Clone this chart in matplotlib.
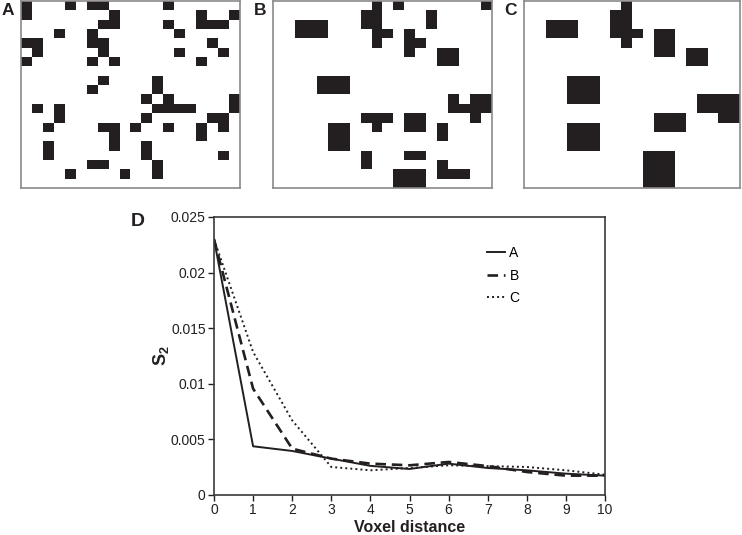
import numpy as np
import matplotlib
matplotlib.use("Agg")
import matplotlib.pyplot as plt
from matplotlib.colors import ListedColormap

plt.rcParams['font.family'] = ['Liberation Sans', 'DejaVu Sans']
plt.rcParams['mathtext.fontset'] = 'custom'
plt.rcParams['mathtext.rm'] = 'Liberation Sans'
plt.rcParams['mathtext.bf'] = 'Liberation Sans:bold'

# ---- binary microstructure panels (20 x 20 voxels, '#' = solid) ----
panel_A = [
    "#...#.##.....#......",
    "#.......#.......#..#",
    ".......##....#..###.",
    "...#..#.......#.....",
    "##....##.........#..",
    ".#.....#......#...#.",
    "#.....#.#.......#...",
    "....................",
    ".......#....#.......",
    "......#.....#.......",
    "...........#.#.....#",
    ".#.#........####...#",
    "...#.......#.....##.",
    "..#....##.#..#..#.#.",
    "........#.......#...",
    "..#.....#..#........",
    "..#........#......#.",
    "......##....#.......",
    "....#....#..#.......",
    "....................",
]
panel_B = [
    ".........#.#.......#",
    "........##....#.....",
    "..###...##....#.....",
    "..###....##.#.......",
    ".........#..##......",
    "............#..##...",
    "...............##...",
    "....................",
    "....###.............",
    "....###.............",
    "................#.##",
    "................####",
    "........###.##....#.",
    ".....##..#..##.#....",
    ".....##........#....",
    ".....##.............",
    "........#...##......",
    "........#......#....",
    "...........###.###..",
    "...........###......",
]
panel_C = [
    ".........#..........",
    "........##..........",
    "..###...##..........",
    "..###...###.##......",
    ".........#..##......",
    "............##.##...",
    "...............##...",
    "....................",
    "....###.............",
    "....###.............",
    "....###.........####",
    "................####",
    "............###...##",
    "....###.....###.....",
    "....###.............",
    "....###.............",
    "...........###......",
    "...........###......",
    "...........###......",
    "...........###......",
]
panel_names = ["A", "B", "C"]

# ---- two-point correlation S2 ----
voxel_distance = [0, 1, 2, 3, 4, 5, 6, 7, 8, 9, 10]
s2_A = [0.0230, 0.00438, 0.00396, 0.00327, 0.00262, 0.00234, 0.00282, 0.00243, 0.00222, 0.00192, 0.00174]
s2_B = [0.0230, 0.00956, 0.00417, 0.00327, 0.00282, 0.00267, 0.00297, 0.00260, 0.00207, 0.00174, 0.00174]
s2_C = [0.0230, 0.01286, 0.00671, 0.00252, 0.00222, 0.00243, 0.00267, 0.00260, 0.00252, 0.00222, 0.00183]
series_labels = ["A", "B", "C"]
x_ticks = [0, 1, 2, 3, 4, 5, 6, 7, 8, 9, 10]
y_ticks = [0, 0.005, 0.01, 0.015, 0.02, 0.025]
y_ticklabels = ["0", "0.005", "0.01", "0.015", "0.02", "0.025"]

W, H = 742, 535
fig = plt.figure(figsize=(W / 100, H / 100), dpi=100)

dark = "#231f20"
cmap = ListedColormap(["white", dark])

panel_boxes = [(21, 1, 219, 187), (273, 1, 219, 187), (524, 1, 216, 187)]
for grid, name, (px, py, pw, ph) in zip([panel_A, panel_B, panel_C], panel_names, panel_boxes):
    arr = np.array([[1 if ch == "#" else 0 for ch in row] for row in grid])
    ax = fig.add_axes([px / W, 1 - (py + ph) / H, pw / W, ph / H])
    ax.imshow(arr, cmap=cmap, vmin=0, vmax=1, aspect="auto", interpolation="nearest")
    ax.set_xticks([])
    ax.set_yticks([])
    for s in ax.spines.values():
        s.set_color("#8a8a8a")
        s.set_linewidth(1.2)
    fig.text((px - 13) / W, 1 - 10.5 / H, name, fontsize=12.5, fontweight="bold",
             ha="center", va="center", color=dark)

# ---- line chart D ----
ax = fig.add_axes([214 / W, 1 - 495 / H, (605 - 214) / W, (495 - 217) / H])
ax.plot(voxel_distance, s2_A, color=dark, lw=1.4, ls="-", label=series_labels[0])
ax.plot(voxel_distance, s2_B, color=dark, lw=1.9, ls=(0, (4, 2.2)), label=series_labels[1])
ax.plot(voxel_distance, s2_C, color=dark, lw=1.4, ls=(0, (1, 1.6)), label=series_labels[2])
ax.set_xlim(0, 10)
ax.set_ylim(0, 0.025)
ax.set_xticks(x_ticks)
ax.set_yticks(y_ticks)
ax.set_yticklabels(y_ticklabels)
ax.tick_params(direction="out", length=4, width=1, labelsize=10, colors=dark, pad=2)
for s in ax.spines.values():
    s.set_color("#3a3a3a")
    s.set_linewidth(1.2)
ax.set_xlabel("Voxel distance", fontsize=11.5, fontweight="bold", color=dark, labelpad=2)
ax.set_ylabel(r"$\mathbf{S_2}$", fontsize=13, color=dark, labelpad=0)
leg = ax.legend(loc="upper left", bbox_to_anchor=(0.665, 0.94), frameon=False,
                fontsize=10, handlelength=1.3, handletextpad=0.35, labelspacing=0.6)
fig.text(138 / W, 1 - 221 / H, "D", fontsize=14, fontweight="bold",
         ha="center", va="center", color=dark)

fig.savefig("out.png", dpi=100)
